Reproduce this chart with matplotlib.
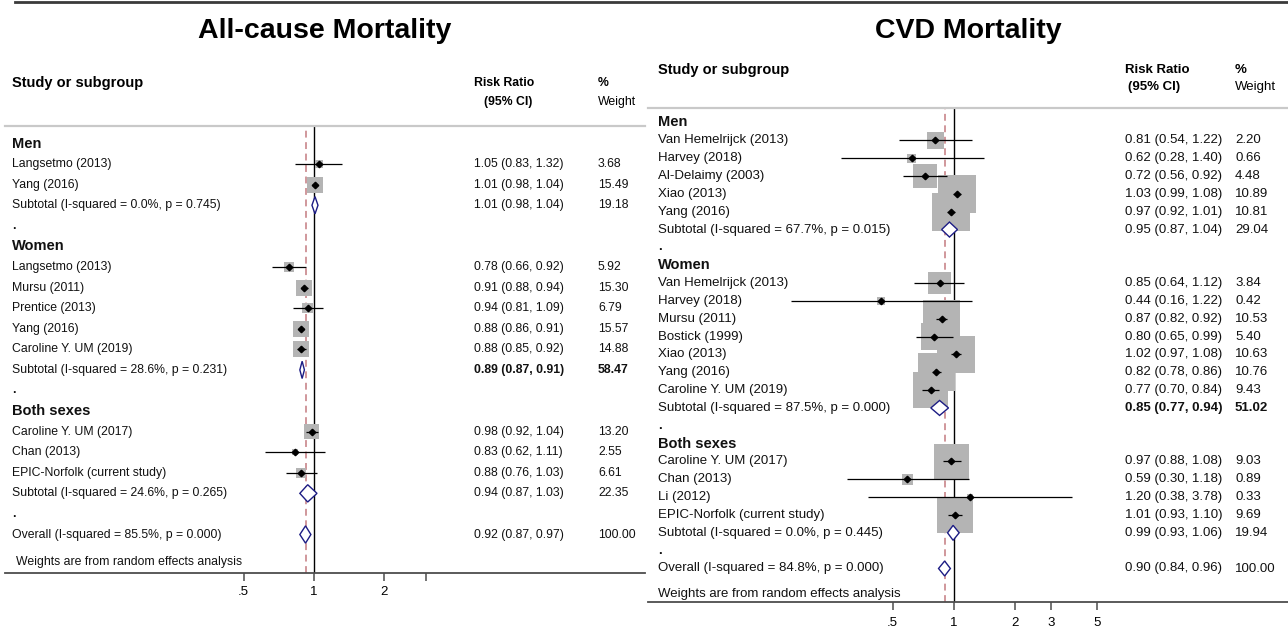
import numpy as np
import matplotlib
matplotlib.use("Agg")
import matplotlib.pyplot as plt
from matplotlib import transforms
from matplotlib.patches import Polygon
from matplotlib.lines import Line2D
from matplotlib.ticker import NullLocator

plt.rcParams['font.family'] = ['Liberation Sans', 'DejaVu Sans']

# ---------------- All-cause mortality ----------------
AC_GROUPS = ["Men", "Women", "Both sexes"]
AC_STUDY_GROUP = [0, 0, 1, 1, 1, 1, 1, 2, 2, 2]
AC_STUDIES = ["Langsetmo (2013)", "Yang (2016)",
              "Langsetmo (2013)", "Mursu (2011)", "Prentice (2013)", "Yang (2016)",
              "Caroline Y. UM (2019)",
              "Caroline Y. UM (2017)", "Chan (2013)", "EPIC-Norfolk (current study)"]
AC_RR = [1.05, 1.01, 0.78, 0.91, 0.94, 0.88, 0.88, 0.98, 0.83, 0.88]
AC_LO = [0.83, 0.98, 0.66, 0.88, 0.81, 0.86, 0.85, 0.92, 0.62, 0.76]
AC_HI = [1.32, 1.04, 0.92, 0.94, 1.09, 0.91, 0.92, 1.04, 1.11, 1.03]
AC_WT = [3.68, 15.49, 5.92, 15.30, 6.79, 15.57, 14.88, 13.20, 2.55, 6.61]
AC_SUB_RR = [1.01, 0.89, 0.94]
AC_SUB_LO = [0.98, 0.87, 0.87]
AC_SUB_HI = [1.04, 0.91, 1.03]
AC_SUB_WT = [19.18, 58.47, 22.35]
AC_SUB_I2 = [0.0, 28.6, 24.6]
AC_SUB_P = ["0.745", "0.231", "0.265"]
AC_SUB_BOLD = [False, True, False]
AC_OVERALL = [0.92, 0.87, 0.97, 100.00]
AC_OVERALL_I2 = 85.5
AC_OVERALL_P = "0.000"
AC_TICKS = [0.5, 1, 2, 3]
AC_TICKLABELS = [".5", "1", "2", ""]

# ---------------- CVD mortality ----------------
CVD_GROUPS = ["Men", "Women", "Both sexes"]
CVD_STUDY_GROUP = [0, 0, 0, 0, 0, 1, 1, 1, 1, 1, 1, 1, 2, 2, 2, 2]
CVD_STUDIES = ["Van Hemelrijck (2013)", "Harvey (2018)", "Al-Delaimy (2003)",
               "Xiao (2013)", "Yang (2016)",
               "Van Hemelrijck (2013)", "Harvey (2018)", "Mursu (2011)",
               "Bostick (1999)", "Xiao (2013)", "Yang (2016)", "Caroline Y. UM (2019)",
               "Caroline Y. UM (2017)", "Chan (2013)", "Li (2012)",
               "EPIC-Norfolk (current study)"]
CVD_RR = [0.81, 0.62, 0.72, 1.03, 0.97, 0.85, 0.44, 0.87, 0.80, 1.02, 0.82, 0.77,
          0.97, 0.59, 1.20, 1.01]
CVD_LO = [0.54, 0.28, 0.56, 0.99, 0.92, 0.64, 0.16, 0.82, 0.65, 0.97, 0.78, 0.70,
          0.88, 0.30, 0.38, 0.93]
CVD_HI = [1.22, 1.40, 0.92, 1.08, 1.01, 1.12, 1.22, 0.92, 0.99, 1.08, 0.86, 0.84,
          1.08, 1.18, 3.78, 1.10]
CVD_WT = [2.20, 0.66, 4.48, 10.89, 10.81, 3.84, 0.42, 10.53, 5.40, 10.63, 10.76, 9.43,
          9.03, 0.89, 0.33, 9.69]
CVD_SUB_RR = [0.95, 0.85, 0.99]
CVD_SUB_LO = [0.87, 0.77, 0.93]
CVD_SUB_HI = [1.04, 0.94, 1.06]
CVD_SUB_WT = [29.04, 51.02, 19.94]
CVD_SUB_I2 = [67.7, 87.5, 0.0]
CVD_SUB_P = ["0.015", "0.000", "0.445"]
CVD_SUB_BOLD = [False, True, False]
CVD_OVERALL = [0.90, 0.84, 0.96, 100.00]
CVD_OVERALL_I2 = 84.8
CVD_OVERALL_P = "0.000"
CVD_TICKS = [0.5, 1, 2, 3, 5]
CVD_TICKLABELS = [".5", "1", "2", "3", "5"]

W, H = 1288, 630
fig = plt.figure(figsize=(W / 100, H / 100), dpi=100)

BOX = "#b4b4b4"
NAVY = "#1c1c84"
REF = "#c47a80"


def fmt_ci(rr, lo, hi):
    return f"{rr:.2f} ({lo:.2f}, {hi:.2f})"


def draw_panel(title, groups, study_group, studies, rr, lo, hi, wt,
               sub_rr, sub_lo, sub_hi, sub_wt, sub_i2, sub_p, sub_bold,
               overall, overall_i2, overall_p, ticks, ticklabels, geo):
    x0, x1 = geo["ax_px"]
    top, bottom = geo["top_px"], geo["bottom_px"]
    row0, step = geo["row0"], geo["step"]
    one_px, k = geo["one_px"], geo["px_per_ln"]

    ax = fig.add_axes([x0 / W, 1 - bottom / H, (x1 - x0) / W, (bottom - top) / H])
    ax.set_xscale("log")
    ax.set_xlim(np.exp((x0 - one_px) / k), np.exp((x1 - one_px) / k))
    ax.set_ylim((bottom - row0) / step, (top - row0) / step)
    ax.set_facecolor("none")

    # row layout: group header, studies, subtotal, spacer dot
    rows_study, rows_sub, rows_head, rows_dot = [], [], [], []
    r = 0
    for g in range(len(groups)):
        rows_head.append(r)
        r += 1
        for sg in study_group:
            if sg == g:
                rows_study.append(r)
                r += 1
        rows_sub.append(r)
        r += 1
        rows_dot.append(r)
        r += 1
    row_overall = r

    # null line and pooled-estimate reference line
    ax.axvline(1, color="black", lw=1.0, zorder=1)
    ax.axvline(overall[0], color=REF, lw=1.1, ls=(0, (4.5, 3)), zorder=1)

    # weighted boxes, confidence intervals and point estimates
    c = geo["box_c"] * 0.72
    ax.scatter(rr, rows_study, s=[(c ** 2) * w for w in wt], marker="s",
               color=BOX, linewidths=0, zorder=2)
    ax.hlines(rows_study, lo, hi, color="black", lw=0.9, zorder=3)
    ax.plot(rr, rows_study, "D", ms=3.3, color="black", zorder=4, lw=0)

    # pooled diamonds
    hh = 0.42
    for est, a, b, y in zip(sub_rr + [overall[0]], sub_lo + [overall[1]],
                            sub_hi + [overall[2]], rows_sub + [row_overall]):
        ax.add_patch(Polygon([(a, y), (est, y - hh), (b, y), (est, y + hh)],
                             closed=True, facecolor="white", edgecolor=NAVY,
                             lw=1.0, zorder=5))

    # axis styling
    for sp in ("left", "right"):
        ax.spines[sp].set_visible(False)
    ax.spines["top"].set_color("#c9c9c9")
    ax.spines["top"].set_linewidth(1.6)
    ax.spines["bottom"].set_color("#4d4d4d")
    ax.spines["bottom"].set_linewidth(1.3)
    ax.set_yticks([])
    ax.set_xticks(ticks)
    ax.set_xticklabels(ticklabels)
    ax.xaxis.set_minor_locator(NullLocator())
    ax.tick_params(axis="x", direction="out", length=6, width=1.1, color="#4d4d4d",
                   labelsize=geo["tick_fs"], pad=geo["tick_pad"])

    tr = transforms.blended_transform_factory(fig.transFigure, ax.transData)
    lx, cx, wx = geo["label_x"] / W, geo["ci_x"] / W, geo["wt_x"] / W
    fs, gfs = geo["fs"], geo["group_fs"]

    def row_text(x, y, s, **kw):
        kw.setdefault("fontsize", fs)
        ax.text(x, y, s, transform=tr, va="center", ha="left", color="#111111",
                clip_on=False, **kw)

    si = 0
    for g, name in enumerate(groups):
        row_text(lx, rows_head[g], name, fontsize=gfs, fontweight="bold")
        for i, sg in enumerate(study_group):
            if sg == g:
                y = rows_study[si]
                row_text(lx, y, studies[i])
                row_text(cx, y, fmt_ci(rr[i], lo[i], hi[i]))
                row_text(wx, y, f"{wt[i]:.2f}")
                si += 1
        y = rows_sub[g]
        row_text(lx, y, f"Subtotal (I-squared = {sub_i2[g]:.1f}%, p = {sub_p[g]})")
        wgt = "bold" if sub_bold[g] else "normal"
        row_text(cx, y, fmt_ci(sub_rr[g], sub_lo[g], sub_hi[g]), fontweight=wgt)
        row_text(wx, y, f"{sub_wt[g]:.2f}", fontweight=wgt)
        row_text(lx, rows_dot[g], ".", fontweight="bold")
    row_text(lx, row_overall, f"Overall (I-squared = {overall_i2:.1f}%, p = {overall_p})")
    row_text(cx, row_overall, fmt_ci(*overall[:3]))
    row_text(wx, row_overall, f"{overall[3]:.2f}")
    ax.text(geo["note_x"] / W, (geo["note_px"] - row0) / step,
            "Weights are from random effects analysis", transform=tr,
            va="center", ha="left", fontsize=fs, color="#111111", clip_on=False)

    # column headers and panel title
    hy1, hy2 = geo["head_y"]
    fig.text(geo["label_x"] / W, 1 - hy1 / H, "Study or subgroup", fontsize=geo["head_fs"],
             fontweight="bold", va="center", ha="left")
    fig.text(geo["ci_x"] / W, 1 - hy1 / H, "Risk Ratio", fontsize=fs,
             fontweight="bold", va="center", ha="left")
    fig.text((geo["ci_x"] + geo["ci_indent"]) / W, 1 - hy2 / H, "(95% CI)", fontsize=fs,
             fontweight="bold", va="center", ha="left")
    fig.text(geo["wt_x"] / W, 1 - hy1 / H, "%", fontsize=fs, fontweight="bold",
             va="center", ha="left")
    fig.text(geo["wt_x"] / W, 1 - hy2 / H, "Weight", fontsize=fs,
             va="center", ha="left")
    fig.text(geo["title_x"] / W, 1 - 31 / H, title, fontsize=geo["title_fs"],
             fontweight="bold", va="center", ha="center")
    return ax


geo_left = dict(ax_px=(5, 645), top_px=125.5, bottom_px=573, row0=143.5, step=20.58,
                one_px=314, px_per_ln=101.7, box_c=4.1, fs=8.8, group_fs=10.5,
                head_fs=10.5, tick_fs=9.5, tick_pad=3.5, label_x=12, ci_x=474,
                ci_indent=10, wt_x=598, note_x=16, note_px=562, head_y=(83, 102),
                title_x=325, title_fs=20.5)
geo_right = dict(ax_px=(648, 1288), top_px=107.5, bottom_px=602, row0=122.5, step=17.84,
                 one_px=954, px_per_ln=88.7, box_c=11.5, fs=9.5, group_fs=10.5,
                 head_fs=10.5, tick_fs=9.5, tick_pad=5, label_x=658, ci_x=1125,
                 ci_indent=3, wt_x=1235, note_x=658, note_px=594, head_y=(70, 87),
                 title_x=968, title_fs=20.5)

draw_panel("All-cause Mortality", AC_GROUPS, AC_STUDY_GROUP, AC_STUDIES, AC_RR, AC_LO,
           AC_HI, AC_WT, AC_SUB_RR, AC_SUB_LO, AC_SUB_HI, AC_SUB_WT, AC_SUB_I2, AC_SUB_P,
           AC_SUB_BOLD, AC_OVERALL, AC_OVERALL_I2, AC_OVERALL_P, AC_TICKS, AC_TICKLABELS,
           geo_left)
draw_panel("CVD Mortality", CVD_GROUPS, CVD_STUDY_GROUP, CVD_STUDIES, CVD_RR, CVD_LO,
           CVD_HI, CVD_WT, CVD_SUB_RR, CVD_SUB_LO, CVD_SUB_HI, CVD_SUB_WT, CVD_SUB_I2,
           CVD_SUB_P, CVD_SUB_BOLD, CVD_OVERALL, CVD_OVERALL_I2, CVD_OVERALL_P,
           CVD_TICKS, CVD_TICKLABELS, geo_right)

# thin dark frame line along the top edge
fig.add_artist(Line2D([15 / W, 1.0], [1 - 1.5 / H, 1 - 1.5 / H], color="#3a3a3a", lw=2.0))

fig.savefig("out.png", dpi=100)
